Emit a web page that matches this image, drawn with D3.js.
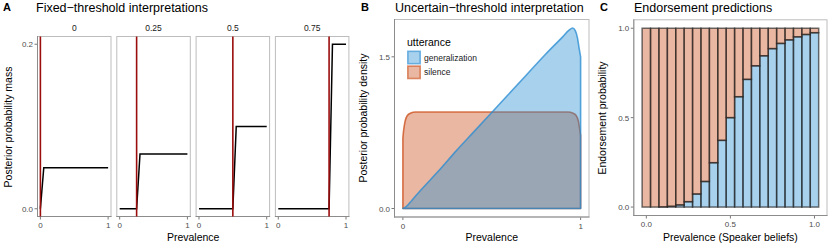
<!DOCTYPE html>
<html>
<head>
<meta charset="utf-8">
<script src="https://cdn.jsdelivr.net/npm/d3@7"></script>
<style>
  html, body { margin: 0; padding: 0; background: #fff; overflow: hidden; }
  svg { font-family: 'Liberation Sans', Arial, Helvetica, sans-serif; }
  .tick-label { font-size: 8px; fill: #4d4d4d; }
  .axis-title { font-size: 10.5px; fill: #000; }
  .strip { font-size: 8.5px; fill: #1a1a1a; }
  .title { font-size: 12.5px; fill: #000; }
  .letter { font-size: 11px; font-weight: bold; fill: #000; }
</style>
</head>
<body>
<script>
'use strict';

// ---- data ----
const thresholds = [0, 0.25, 0.5, 0.75];
const prevalenceGrid = [0, 0.05, 0.1, 0.15, 0.2, 0.25, 0.3, 0.35, 0.4, 0.45, 0.5,
  0.55, 0.6, 0.65, 0.7, 0.75, 0.8, 0.85, 0.9, 0.95, 1];
// posterior mass over prevalence, one row per threshold
const massT0 = [0, 0.05, 0.05, 0.05, 0.05, 0.05, 0.05, 0.05, 0.05, 0.05, 0.05,
  0.05, 0.05, 0.05, 0.05, 0.05, 0.05, 0.05, 0.05, 0.05, 0.05];
const massT25 = [0, 0, 0, 0, 0, 0, 0.0667, 0.0667, 0.0667, 0.0667, 0.0667,
  0.0667, 0.0667, 0.0667, 0.0667, 0.0667, 0.0667, 0.0667, 0.0667, 0.0667, 0.0667];
const massT50 = [0, 0, 0, 0, 0, 0, 0, 0, 0, 0, 0,
  0.1, 0.1, 0.1, 0.1, 0.1, 0.1, 0.1, 0.1, 0.1, 0.1];
const massT75 = [0, 0, 0, 0, 0, 0, 0, 0, 0, 0, 0,
  0, 0, 0, 0, 0, 0.2, 0.2, 0.2, 0.2, 0.2];
const massRows = [massT0, massT25, massT50, massT75];

// posterior density, uncertain threshold
const genX = [0, 0.02, 0.05, 0.1, 0.2, 0.3, 0.4, 0.5, 0.6, 0.7, 0.8, 0.9, 0.935, 0.955, 0.97, 0.982, 0.992, 1];
const genY = [0, 0.02, 0.08, 0.18, 0.37, 0.57, 0.76, 0.95, 1.14, 1.33, 1.52, 1.70, 1.765, 1.785, 1.76, 1.69, 1.58, 1.5];
const silX = [0, 0.004, 0.012, 0.025, 0.045, 0.07, 0.1, 0.3, 0.5, 0.7, 0.9, 0.93, 0.955, 0.975, 0.988, 0.996, 1];
const silY = [0.70, 0.77, 0.86, 0.92, 0.945, 0.955, 0.955, 0.955, 0.955, 0.955, 0.955, 0.955, 0.945, 0.92, 0.86, 0.77, 0.72];

const utterances = ['generalization', 'silence'];
// endorsement probability at each prevalence
const endorseProb = [0, 0, 0.001, 0.004, 0.012, 0.03, 0.073, 0.143, 0.248, 0.373, 0.5,
  0.617, 0.714, 0.79, 0.846, 0.886, 0.915, 0.935, 0.952, 0.965, 0.975];

const solar = { generalization: '#268bd2', silence: '#cb4b16' };

const svg = d3.select('body').append('svg').attr('width', 830).attr('height', 244);

function panelFrame(g, x0, x1, y0, y1, leftAxis) {
  g.append('rect').attr('x', x0 + 0.5).attr('y', y0 + 0.5)
      .attr('width', x1 - x0 - 1).attr('height', y1 - y0 - 1)
      .attr('fill', 'none').attr('stroke', '#bdbdbd').attr('stroke-width', 1);
  g.append('line').attr('x1', x0).attr('x2', x1).attr('y1', y1 - 0.5).attr('y2', y1 - 0.5)
      .attr('stroke', '#8c8c8c');
  if (leftAxis) {
    g.append('line').attr('x1', x0 + 0.5).attr('x2', x0 + 0.5).attr('y1', y0).attr('y2', y1)
        .attr('stroke', '#8c8c8c');
  }
}

function xTicks(g, scale, y1, values, fmt) {
  values.forEach(v => {
    g.append('line').attr('x1', scale(v)).attr('x2', scale(v)).attr('y1', y1).attr('y2', y1 + 2.5)
        .attr('stroke', '#555').attr('stroke-width', 0.8);
    g.append('text').classed('tick-label', true).attr('text-anchor', 'middle')
        .attr('x', scale(v)).attr('y', y1 + 11).text(fmt(v));
  });
}

function yTicks(g, scale, x0, values, fmt) {
  values.forEach(v => {
    g.append('line').attr('x1', x0 - 2.5).attr('x2', x0).attr('y1', scale(v)).attr('y2', scale(v))
        .attr('stroke', '#555').attr('stroke-width', 0.8);
    g.append('text').classed('tick-label', true).attr('text-anchor', 'end')
        .attr('x', x0 - 4).attr('y', scale(v) + 3).text(fmt(v));
  });
}

function yTitle(x, y, label) {
  svg.append('text').classed('axis-title', true).attr('text-anchor', 'middle')
      .attr('transform', `translate(${x},${y}) rotate(-90)`).text(label);
}

// ---- panel A ----
const gA = svg.append('g');
gA.append('text').classed('letter', true).attr('x', 3).attr('y', 11).text('A');
gA.append('text').classed('title', true).attr('x', 36).attr('y', 11.5).text('Fixed\u2212threshold interpretations');

const aTop = 36, aBottom = 217, facetW = 74.5, facetStep = 79.3, facetLeft = 37;
const yA = d3.scaleLinear().domain([-0.01, 0.21]).range([aBottom, aTop]);
const lineA = d3.line();

thresholds.forEach((t, i) => {
  const x0 = facetLeft + i * facetStep;
  const xA = d3.scaleLinear().domain([-0.05, 1.05]).range([x0, x0 + facetW]);
  const g = gA.append('g');
  panelFrame(g, x0, x0 + facetW, aTop, aBottom, i === 0);
  g.append('text').classed('strip', true).attr('text-anchor', 'middle')
      .attr('x', x0 + facetW / 2).attr('y', 31).text(String(t));
  const pts = prevalenceGrid.map((p, k) => [xA(p), yA(massRows[i][k])]);
  g.append('path').attr('d', lineA(pts)).attr('fill', 'none')
      .attr('stroke', '#000').attr('stroke-width', 1.5);
  g.append('line').attr('x1', xA(t)).attr('x2', xA(t)).attr('y1', aTop + 0.5).attr('y2', aBottom - 0.5)
      .attr('stroke', '#9b0d0d').attr('stroke-width', 1.6);
  xTicks(g, xA, aBottom, [0, 1], d3.format('d'));
  if (i === 0) yTicks(g, yA, x0, [0, 0.2], d3.format('.1f'));
});
yTitle(12, 127, 'Posterior probability mass');
gA.append('text').classed('axis-title', true).attr('text-anchor', 'middle')
    .attr('x', facetLeft + (3 * facetStep + facetW) / 2).attr('y', 241).text('Prevalence');

// ---- panel B ----
const gB = svg.append('g');
gB.append('text').classed('letter', true).attr('x', 361).attr('y', 11).text('B');
gB.append('text').classed('title', true).attr('x', 395).attr('y', 11.5).text('Uncertain\u2212threshold interpretation');
const bL = 394, bR = 589.5, bT = 19, bB = 217.5;
const xB = d3.scaleLinear().domain([-0.05, 1.05]).range([bL, bR]);
const yB = d3.scaleLinear().domain([-0.089, 1.874]).range([bB, bT]);
panelFrame(gB, bL, bR, bT, bB, true);

const areaB = d3.area().x(d => xB(d[0])).y0(yB(0)).y1(d => yB(d[1])).curve(d3.curveMonotoneX);
const densities = {
  silence: silX.map((x, k) => [x, silY[k]]),
  generalization: genX.map((x, k) => [x, genY[k]])
};
['silence', 'generalization'].forEach(u => {
  gB.append('path').attr('d', areaB(densities[u]))
      .attr('fill', solar[u]).attr('fill-opacity', 0.4)
      .attr('stroke', solar[u]).attr('stroke-opacity', 0.75).attr('stroke-width', 1.6)
      .attr('stroke-linejoin', 'round');
});
xTicks(gB, xB, bB, [0, 1], d3.format('d'));
yTicks(gB, yB, bL, [0, 1.5], d3.format('.1f'));
yTitle(367, 118, 'Posterior probability density');
gB.append('text').classed('axis-title', true).attr('text-anchor', 'middle')
    .attr('x', (bL + bR) / 2).attr('y', 241).text('Prevalence');

// legend
const lg = gB.append('g').attr('transform', 'translate(407,0)');
lg.append('text').attr('x', 0).attr('y', 45.5).style('font-size', '10.5px').text('utterance');
utterances.forEach((u, k) => {
  const yy = 50.5 + k * 14.8;
  lg.append('rect').attr('x', 0.8).attr('y', yy + 0.8).attr('width', 12.4).attr('height', 12.4)
      .attr('fill', solar[u]).attr('fill-opacity', 0.4)
      .attr('stroke', solar[u]).attr('stroke-opacity', 0.6).attr('stroke-width', 1.6);
  lg.append('text').attr('x', 17).attr('y', yy + 10).style('font-size', '8.5px').attr('fill', '#1a1a1a').text(u);
});

// ---- panel C ----
const gC = svg.append('g');
gC.append('text').classed('letter', true).attr('x', 600).attr('y', 11).text('C');
gC.append('text').classed('title', true).attr('x', 634).attr('y', 11.5).text('Endorsement predictions');
const cL = 633.3, cR = 827.5, cT = 19.3, cB = 216;
const xC = d3.scaleLinear().domain([-0.0775, 1.0775]).range([cL, cR]);
const yC = d3.scaleLinear().domain([-0.05, 1.05]).range([cB, cT]);
panelFrame(gC, cL, cR, cT, cB, true);

const rows = prevalenceGrid.map((p, k) => ({ p: p, generalization: endorseProb[k], silence: 1 - endorseProb[k] }));
const stacked = d3.stack().keys(utterances)(rows);
const barW = xC(0.05) - xC(0);
stacked.forEach(layer => {
  gC.append('g').selectAll('rect').data(layer).enter().append('rect')
      .attr('x', d => xC(d.data.p) - barW / 2)
      .attr('width', barW)
      .attr('y', d => yC(d[1]))
      .attr('height', d => Math.max(0, yC(d[0]) - yC(d[1])))
      .attr('fill', solar[layer.key]).attr('fill-opacity', 0.4)
      .attr('stroke', '#222').attr('stroke-opacity', 0.65).attr('stroke-width', 1.5);
});
xTicks(gC, xC, cB, [0, 0.5, 1], d3.format('.1f'));
yTicks(gC, yC, cL, [0, 0.5, 1], d3.format('.1f'));
yTitle(606, 118, 'Endorsement probability');
gC.append('text').classed('axis-title', true).attr('text-anchor', 'middle')
    .attr('x', (cL + cR) / 2).attr('y', 241).text('Prevalence (Speaker beliefs)');
</script>
</body>
</html>
